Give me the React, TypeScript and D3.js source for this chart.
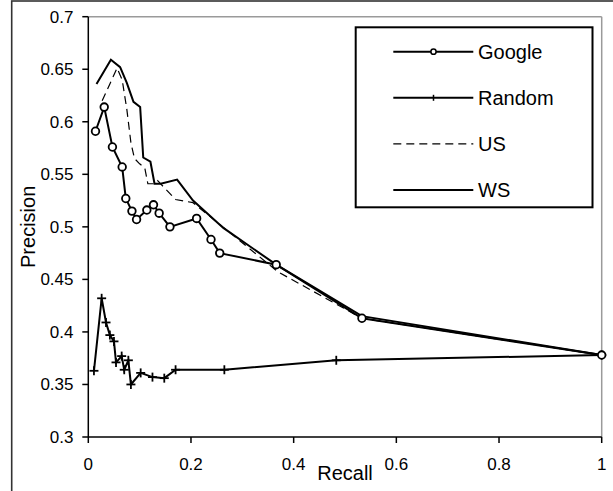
import React from "react";
import * as d3 from "d3";

const googleX = [0.014, 0.031, 0.047, 0.066, 0.073, 0.085, 0.094, 0.114, 0.127, 0.138, 0.159, 0.211, 0.239, 0.256, 0.366, 0.533, 1.0];
const googleY = [0.591, 0.614, 0.576, 0.557, 0.527, 0.515, 0.507, 0.516, 0.521, 0.513, 0.500, 0.508, 0.488, 0.475, 0.464, 0.413, 0.378];

const randomX = [0.011, 0.026, 0.0345, 0.042, 0.05, 0.054, 0.065, 0.070, 0.078, 0.083, 0.102, 0.125, 0.148, 0.170, 0.265, 0.483, 1.0];
const randomY = [0.363, 0.432, 0.409, 0.397, 0.391, 0.371, 0.377, 0.364, 0.373, 0.350, 0.361, 0.357, 0.356, 0.364, 0.364, 0.373, 0.378];

const usX = [0.027, 0.056, 0.066, 0.075, 0.083, 0.090, 0.100, 0.110, 0.116, 0.128, 0.135, 0.170, 0.204, 0.370, 0.533, 1.0];
const usY = [0.620, 0.651, 0.640, 0.612, 0.580, 0.565, 0.560, 0.556, 0.541, 0.541, 0.544, 0.526, 0.523, 0.457, 0.413, 0.378];

const wsX = [0.016, 0.044, 0.062, 0.075, 0.088, 0.101, 0.107, 0.121, 0.129, 0.141, 0.173, 0.204, 0.263, 0.366, 0.533, 1.0];
const wsY = [0.636, 0.659, 0.652, 0.637, 0.619, 0.614, 0.566, 0.562, 0.541, 0.541, 0.545, 0.525, 0.499, 0.464, 0.415, 0.378];

const xTicks = [0, 0.2, 0.4, 0.6, 0.8, 1];
const xTickLabels = ["0", "0.2", "0.4", "0.6", "0.8", "1"];
const yTicks = [0.3, 0.35, 0.4, 0.45, 0.5, 0.55, 0.6, 0.65, 0.7];
const yTickLabels = ["0.3", "0.35", "0.4", "0.45", "0.5", "0.55", "0.6", "0.65", "0.7"];
const legendNames = ["Google", "Random", "US", "WS"];

const W = 613;
const H = 491;
const left = 88.3;
const right = 601.7;
const top = 16.7;
const bottom = 437;
const FONT = "'Liberation Sans', Arial, sans-serif";

export default function App() {
  const x = d3.scaleLinear().domain([0, 1]).range([left, right]);
  const y = d3.scaleLinear().domain([0.3, 0.7]).range([bottom, top]);

  const mk = (xs: number[], ys: number[]) => xs.map((v, i) => [v, ys[i]] as [number, number]);
  const line = d3
    .line<[number, number]>()
    .x((d) => x(d[0]))
    .y((d) => y(d[1]));

  const google = mk(googleX, googleY);
  const random = mk(randomX, randomY);
  const us = mk(usX, usY);
  const ws = mk(wsX, wsY);

  const legX0 = 393.3;
  const legX1 = 473.3;
  const legMid = 433.5;
  const rowY = (i: number) => 51.7 + i * 46.1;

  return (
    <svg
      width={W}
      height={H}
      style={{ position: "absolute", left: 0, top: 0, background: "#fff" }}
      fontFamily={FONT}
    >
      <rect x={0} y={0} width={W} height={H} fill="#fff" />
      {/* outer chart frame */}
      <rect x={11.7} y={1} width={700} height={600} fill="none" stroke="#333" strokeWidth={1.6} />

      {/* plot area border (grey) */}
      <line x1={left} x2={right} y1={top} y2={top} stroke="#9a9a9a" strokeWidth={1.5} />
      <line x1={right} x2={right} y1={top} y2={bottom} stroke="#9a9a9a" strokeWidth={1.5} />

      {/* axes */}
      <line x1={left} x2={left} y1={top} y2={bottom} stroke="#000" strokeWidth={1.5} />
      <line x1={left} x2={right} y1={bottom} y2={bottom} stroke="#000" strokeWidth={1.5} />

      {yTicks.map((t, i) => (
        <g key={"yt" + i}>
          <line x1={left - 6} x2={left} y1={y(t)} y2={y(t)} stroke="#000" strokeWidth={1.5} />
          <text x={73.5} y={y(t) + 6} textAnchor="end" fontSize={17} fill="#000">
            {yTickLabels[i]}
          </text>
        </g>
      ))}
      {xTicks.map((t, i) => (
        <g key={"xt" + i}>
          <line x1={x(t)} x2={x(t)} y1={bottom} y2={bottom + 6} stroke="#000" strokeWidth={1.5} />
          <text x={x(t)} y={469.5} textAnchor="middle" fontSize={17} fill="#000">
            {xTickLabels[i]}
          </text>
        </g>
      ))}

      <text x={(left + right) / 2} y={480} textAnchor="middle" fontSize={20} fill="#000">
        Recall
      </text>
      <text
        transform={`translate(35,${(top + bottom) / 2}) rotate(-90)`}
        textAnchor="middle"
        fontSize={20}
        fill="#000"
      >
        Precision
      </text>

      {/* series */}
      <path d={line(us) || ""} fill="none" stroke="#000" strokeWidth={1.2} strokeDasharray="8,5" />
      <path d={line(ws) || ""} fill="none" stroke="#000" strokeWidth={2} strokeLinejoin="miter" />
      <path d={line(random) || ""} fill="none" stroke="#000" strokeWidth={2} />
      <path d={line(google) || ""} fill="none" stroke="#000" strokeWidth={2} />

      {random.map((d, i) => (
        <g key={"rp" + i} stroke="#000" strokeWidth={1.8}>
          <line x1={x(d[0]) - 4.5} x2={x(d[0]) + 4.5} y1={y(d[1])} y2={y(d[1])} />
          <line x1={x(d[0])} x2={x(d[0])} y1={y(d[1]) - 4.5} y2={y(d[1]) + 4.5} />
        </g>
      ))}
      {google.map((d, i) => (
        <circle key={"gp" + i} cx={x(d[0])} cy={y(d[1])} r={3.8} fill="#fff" stroke="#000" strokeWidth={1.8} />
      ))}

      {/* legend */}
      <rect x={355.7} y={27.3} width={236.8} height={180} fill="#fff" stroke="#000" strokeWidth={2} />
      {legendNames.map((name, i) => {
        const ry = rowY(i);
        return (
          <g key={"lg" + i}>
            <line
              x1={legX0}
              x2={legX1}
              y1={ry}
              y2={ry}
              stroke="#000"
              strokeWidth={i === 2 ? 1.2 : 2}
              strokeDasharray={i === 2 ? "8,5" : undefined}
            />
            {i === 0 && <circle cx={legMid} cy={ry} r={2.6} fill="#fff" stroke="#000" strokeWidth={1.5} />}
            {i === 1 && (
              <g stroke="#000" strokeWidth={1.5}>
                <line x1={legMid} x2={legMid} y1={ry - 3} y2={ry + 3} />
              </g>
            )}
            <text x={478} y={ry + 7} fontSize={20} fill="#000">
              {name}
            </text>
          </g>
        );
      })}
    </svg>
  );
}
